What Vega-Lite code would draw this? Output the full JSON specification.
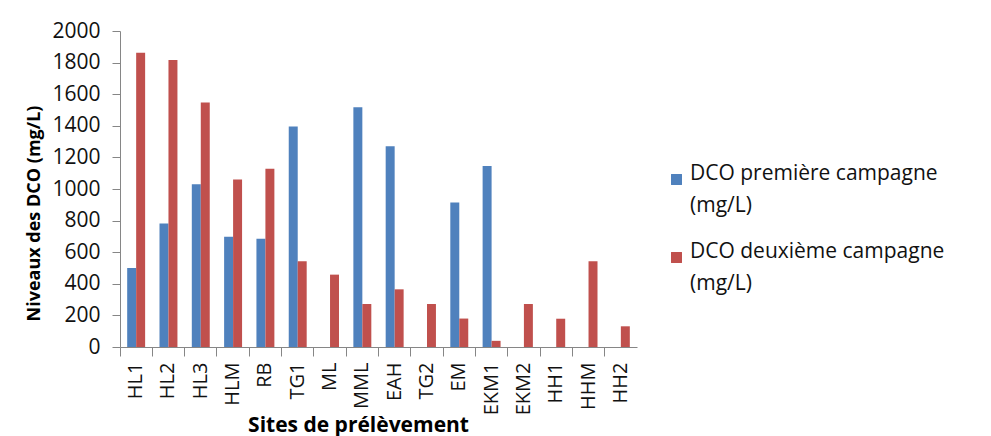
{
  "$schema": "https://vega.github.io/schema/vega-lite/v6.json",
  "width": 517,
  "height": 316,
  "autosize": "none",
  "padding": {"left": 120, "top": 31, "right": 354, "bottom": 89},
  "background": "white",
  "config": {
    "view": {"stroke": null},
    "font": "Open Sans",
    "style": {"guide-label": {"lineHeight": 32}}
  },
  "data": {
    "values": [
      {"site": "HL1", "serie": "DCO première campagne (mg/L)", "valeur": 500},
      {"site": "HL1", "serie": "DCO deuxième campagne (mg/L)", "valeur": 1862},
      {"site": "HL2", "serie": "DCO première campagne (mg/L)", "valeur": 782},
      {"site": "HL2", "serie": "DCO deuxième campagne (mg/L)", "valeur": 1816},
      {"site": "HL3", "serie": "DCO première campagne (mg/L)", "valeur": 1030},
      {"site": "HL3", "serie": "DCO deuxième campagne (mg/L)", "valeur": 1548},
      {"site": "HLM", "serie": "DCO première campagne (mg/L)", "valeur": 698},
      {"site": "HLM", "serie": "DCO deuxième campagne (mg/L)", "valeur": 1060},
      {"site": "RB", "serie": "DCO première campagne (mg/L)", "valeur": 685},
      {"site": "RB", "serie": "DCO deuxième campagne (mg/L)", "valeur": 1128},
      {"site": "TG1", "serie": "DCO première campagne (mg/L)", "valeur": 1395},
      {"site": "TG1", "serie": "DCO deuxième campagne (mg/L)", "valeur": 543},
      {"site": "ML", "serie": "DCO première campagne (mg/L)", "valeur": 0},
      {"site": "ML", "serie": "DCO deuxième campagne (mg/L)", "valeur": 458},
      {"site": "MML", "serie": "DCO première campagne (mg/L)", "valeur": 1518},
      {"site": "MML", "serie": "DCO deuxième campagne (mg/L)", "valeur": 272},
      {"site": "EAH", "serie": "DCO première campagne (mg/L)", "valeur": 1271},
      {"site": "EAH", "serie": "DCO deuxième campagne (mg/L)", "valeur": 365},
      {"site": "TG2", "serie": "DCO première campagne (mg/L)", "valeur": 0},
      {"site": "TG2", "serie": "DCO deuxième campagne (mg/L)", "valeur": 272},
      {"site": "EM", "serie": "DCO première campagne (mg/L)", "valeur": 914},
      {"site": "EM", "serie": "DCO deuxième campagne (mg/L)", "valeur": 180},
      {"site": "EKM1", "serie": "DCO première campagne (mg/L)", "valeur": 1145},
      {"site": "EKM1", "serie": "DCO deuxième campagne (mg/L)", "valeur": 39},
      {"site": "EKM2", "serie": "DCO première campagne (mg/L)", "valeur": 0},
      {"site": "EKM2", "serie": "DCO deuxième campagne (mg/L)", "valeur": 272},
      {"site": "HH1", "serie": "DCO première campagne (mg/L)", "valeur": 0},
      {"site": "HH1", "serie": "DCO deuxième campagne (mg/L)", "valeur": 179},
      {"site": "HHM", "serie": "DCO première campagne (mg/L)", "valeur": 0},
      {"site": "HHM", "serie": "DCO deuxième campagne (mg/L)", "valeur": 543},
      {"site": "HH2", "serie": "DCO première campagne (mg/L)", "valeur": 0},
      {"site": "HH2", "serie": "DCO deuxième campagne (mg/L)", "valeur": 131}
    ]
  },
  "mark": {"type": "bar", "stroke": null},
  "encoding": {
    "x": {
      "field": "site",
      "type": "nominal",
      "sort": null,
      "scale": {"paddingInner": 0, "paddingOuter": 0},
      "axis": {
        "title": "Sites de prélèvement",
        "titleFontSize": 21,
        "titleFontWeight": "bold",
        "titleColor": "#000",
        "titleX": 238,
        "titleY": 67,
        "labelAngle": -90,
        "labelFontSize": 20,
        "labelColor": "#111",
        "labelPadding": 6,
        "bandPosition": 0,
        "tickSize": 9,
        "tickColor": "#868686",
        "domainColor": "#868686",
        "grid": false
      }
    },
    "xOffset": {
      "field": "serie",
      "type": "nominal",
      "sort": ["DCO première campagne (mg/L)", "DCO deuxième campagne (mg/L)"],
      "scale": {"paddingInner": 0, "paddingOuter": 0.8}
    },
    "y": {
      "field": "valeur",
      "type": "quantitative",
      "scale": {"domain": [0, 2000], "nice": false},
      "axis": {
        "title": "Niveaux des DCO (mg/L)",
        "titleFontSize": 18,
        "titleFontWeight": "bold",
        "titleColor": "#000",
        "titlePadding": 8,
        "titleY": 182,
        "format": "d",
        "values": [0, 200, 400, 600, 800, 1000, 1200, 1400, 1600, 1800, 2000],
        "labelFontSize": 21,
        "labelColor": "#111",
        "labelPadding": 12,
        "tickSize": 8,
        "tickColor": "#868686",
        "domainColor": "#868686",
        "grid": false
      }
    },
    "color": {
      "field": "serie",
      "type": "nominal",
      "sort": ["DCO première campagne (mg/L)", "DCO deuxième campagne (mg/L)"],
      "scale": {"range": ["#4F81BD", "#C0504D"]},
      "legend": {
        "title": null,
        "orient": "none",
        "legendX": 546,
        "legendY": 138,
        "symbolType": "square",
        "symbolSize": 120,
        "symbolStrokeWidth": 0,
        "labelFontSize": 21,
        "labelColor": "#111",
        "labelOffset": 3,
        "labelLimit": 400,
        "labelExpr": "split(replace(datum.label, ' (', '|('), '|')",
        "labelBaseline": "alphabetic",
        "rowPadding": 24
      }
    }
  }
}
